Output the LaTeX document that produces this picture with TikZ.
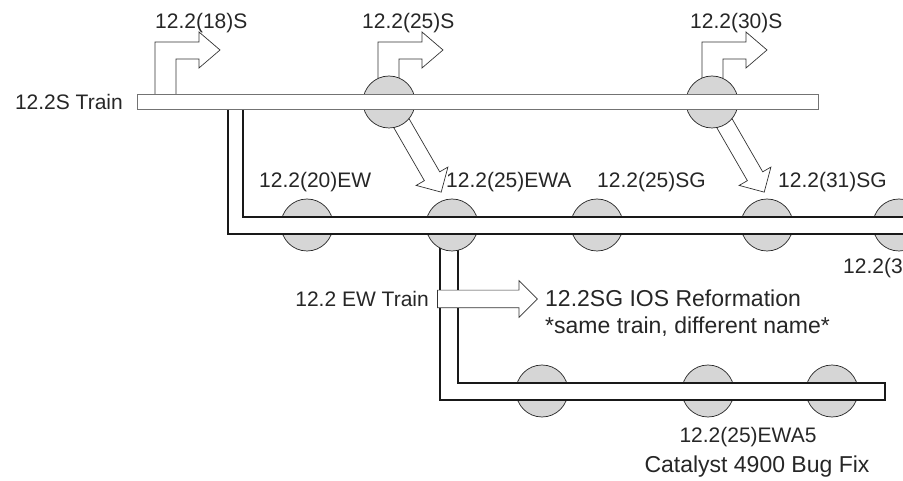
\documentclass[tikz,border=0pt]{standalone}
\usepackage{fontspec}
\setmainfont{Liberation Sans}
\usetikzlibrary{shapes.arrows,calc}

\tikzset{
  relstop/.style={circle,draw=black!85,fill=black!16,line width=0.7pt,minimum size=52pt,inner sep=0pt},
  sbar/.style={draw=black!55,fill=white,line width=1pt,inner sep=0pt},
  band/.style={draw=black!90,fill=white,line width=1.4pt},
  fat/.style={single arrow,draw=black!80,fill=white,line width=0.7pt,minimum width=36pt,
    inner sep=0pt,inner ysep=8.5pt,single arrow head extend=9.5pt},
  lbl/.style={font=\fontsize{21}{25}\selectfont,inner sep=0pt,text=black!85},
  biglbl/.style={font=\fontsize{23}{27}\selectfont,inner sep=0pt,text=black!85},
  bentarrow/.pic={
    \draw[draw=black!80,fill=white,line width=0.7pt] (0,0) -- (0,-53) -- (44,-53) -- (44,-63)
      -- (65,-45) -- (44,-27) -- (44,-36) -- (21,-36) -- (21,0) -- cycle;}
}

\begin{document}
\begin{tikzpicture}[x=1pt,y=-1pt]
  \useasboundingbox (0,0) rectangle (903,481);
  \clip (0,0) rectangle (903,481);

  \coordinate (tip25) at (439,188);
  \coordinate (tip30) at (762,188);

  % branch arrows
  \pic at (155,95) {bentarrow};
  \pic at (378,95) {bentarrow};
  \pic at (702,95) {bentarrow};
  \node[fat,rotate=-60,minimum height=100pt] (d25) at ($(389,102)!.5!(tip25)$) {};
  \node[fat,rotate=-60,minimum height=100pt] (d30) at ($(712,102)!.5!(tip30)$) {};

  % 12.2S train
  \node[relstop] (s25) at (389,102) {};
  \node[relstop] (s30) at (712,102) {};
  \node[sbar,minimum width=681pt,minimum height=15pt] (strain) at (477.5,102.5) {};

  % Catalyst 4900 branch
  \node[relstop] (c1) at (542,391) {};
  \node[relstop] (c2) at (708,391) {};
  \node[relstop] (c3) at (832,391) {};
  \draw[band] (440,234) -- (440,400) -- (885,400) -- (885,383) -- (458,383) -- (458,234);

  % 12.2 EW train
  \node[relstop] (ew20) at (307,225) {};
  \node[relstop] (ew25a) at (452,225) {};
  \node[relstop] (sg25) at (597,225) {};
  \node[relstop] (sg31) at (767,225) {};
  \node[relstop] (sg3x) at (899,225) {};
  \draw[band] (strain.south -| 228,0) -- (228,234) -- (915,234) -- (915,217) -- (243,217) -- (strain.south -| 243,0);

  \node[fat,minimum height=100pt] (ewarrow) at (483,299) {};

  % labels
  \node[lbl,anchor=east] (slbl) at (123,102) {12.2S Train};
  \node[lbl,anchor=west] (l18) at (155,23) {12.2(18)S};
  \node[lbl,anchor=west] (l25) at (362,23) {12.2(25)S};
  \node[lbl,anchor=west] (l30) at (690,23) {12.2(30)S};
  \node[lbl,anchor=west] (l20ew) at (259,182) {12.2(20)EW};
  \node[lbl,anchor=west] (l25ewa) at (446,182) {12.2(25)EWA};
  \node[lbl,anchor=west] (l25sg) at (597,182) {12.2(25)SG};
  \node[lbl,anchor=west] (l31sg) at (778,182) {12.2(31)SG};
  \node[lbl,anchor=west] (l3x) at (843,268) {12.2(3};
  \node[lbl,anchor=east] (ewlbl) at (429,299) {12.2 EW Train};
  \node[biglbl,anchor=west] (sglbl) at (545,298) {12.2SG IOS Reformation};
  \node[biglbl,anchor=west] (samelbl) at (545,327) {*same train, different name*};
  \node[lbl] (l25ewa5) at (748,437) {12.2(25)EWA5};
  \node[biglbl] (catlbl) at (757,467) {Catalyst 4900 Bug Fix};
\end{tikzpicture}
\end{document}
